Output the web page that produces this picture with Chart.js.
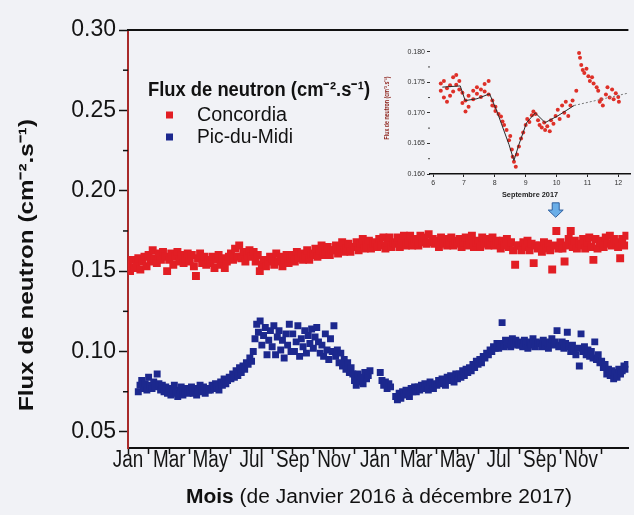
<!DOCTYPE html>
<html>
<head>
<meta charset="utf-8">
<script src="https://cdn.jsdelivr.net/npm/chart.js@4.4.0/dist/chart.umd.min.js"></script>
<style>
  html, body { margin: 0; padding: 0; background: #f1f2f6; overflow: hidden; }
  #wrap { position: relative; width: 634px; height: 515px; }
  #main { position: absolute; left: 0; top: 0; }
  #inset { position: absolute; left: 378px; top: 32px; }
</style>
</head>
<body>
<div id="wrap">
  <canvas id="main" width="634" height="515"></canvas>
  <canvas id="inset" width="256" height="178"></canvas>
</div>
<script>
// ---- main chart data (months since Jan 2016, flux in cm-2.s-1) ----
const monthLabels = ["Jan", "Mar", "May", "Jul", "Sep", "Nov", "Jan", "Mar", "May", "Jul", "Sep", "Nov"];
const monthTicks = [0, 1, 2, 3, 4, 5, 6, 7, 8, 9, 10, 11, 12, 13, 14, 15, 16, 17, 18, 19, 20, 21, 22, 23];
const yMajorTicks = [0.05, 0.10, 0.15, 0.20, 0.25, 0.30];
const yMinorTicks = [0.075, 0.125, 0.175, 0.225, 0.275];

// Concordia, 10 readings per month
const concordiaByMonth = [
  [0.154, 0.150, 0.157, 0.152, 0.155, 0.158, 0.151, 0.156, 0.159, 0.153],
  [0.160, 0.156, 0.163, 0.158, 0.155, 0.161, 0.157, 0.162, 0.159, 0.150],
  [0.157, 0.161, 0.154, 0.159, 0.162, 0.156, 0.160, 0.155, 0.158, 0.161],
  [0.156, 0.160, 0.153, 0.147, 0.158, 0.161, 0.155, 0.159, 0.154, 0.157],
  [0.155, 0.159, 0.152, 0.157, 0.160, 0.154, 0.158, 0.152, 0.156, 0.159],
  [0.161, 0.157, 0.164, 0.159, 0.166, 0.158, 0.162, 0.156, 0.160, 0.163],
  [0.159, 0.162, 0.156, 0.160, 0.150, 0.154, 0.157, 0.153, 0.156, 0.159],
  [0.158, 0.154, 0.161, 0.156, 0.159, 0.153, 0.157, 0.160, 0.155, 0.158],
  [0.160, 0.156, 0.162, 0.158, 0.161, 0.157, 0.159, 0.163, 0.157, 0.160],
  [0.161, 0.164, 0.159, 0.163, 0.166, 0.160, 0.162, 0.165, 0.160, 0.163],
  [0.163, 0.166, 0.161, 0.165, 0.168, 0.162, 0.164, 0.167, 0.162, 0.165],
  [0.165, 0.168, 0.163, 0.167, 0.170, 0.164, 0.166, 0.169, 0.164, 0.167],
  [0.168, 0.165, 0.170, 0.166, 0.171, 0.164, 0.168, 0.171, 0.165, 0.168],
  [0.167, 0.171, 0.165, 0.169, 0.172, 0.166, 0.168, 0.172, 0.166, 0.169],
  [0.170, 0.166, 0.172, 0.168, 0.171, 0.167, 0.173, 0.168, 0.170, 0.167],
  [0.169, 0.165, 0.171, 0.167, 0.170, 0.166, 0.168, 0.171, 0.166, 0.169],
  [0.167, 0.170, 0.165, 0.168, 0.171, 0.166, 0.169, 0.172, 0.165, 0.168],
  [0.169, 0.165, 0.171, 0.167, 0.170, 0.166, 0.168, 0.171, 0.166, 0.169],
  [0.167, 0.164, 0.169, 0.166, 0.170, 0.165, 0.168, 0.163, 0.154, 0.166],
  [0.166, 0.163, 0.168, 0.165, 0.169, 0.163, 0.167, 0.155, 0.166, 0.164],
  [0.166, 0.162, 0.168, 0.164, 0.167, 0.163, 0.151, 0.166, 0.175, 0.164],
  [0.168, 0.164, 0.156, 0.166, 0.170, 0.175, 0.165, 0.169, 0.164, 0.167],
  [0.166, 0.170, 0.164, 0.168, 0.171, 0.165, 0.157, 0.170, 0.164, 0.168],
  [0.169, 0.165, 0.171, 0.167, 0.172, 0.166, 0.170, 0.168, 0.165, 0.158],
  [0.170, 0.166, 0.172]
];

// Pic-du-Midi, 12 readings per month (null = no reading)
const picByMonth = [
  [null, null, null, null, null, null, 0.075, 0.079, 0.082, 0.077, 0.080, 0.076],
  [0.084, 0.079, 0.077, 0.081, 0.078, 0.086, 0.080, 0.076, 0.079, 0.075, 0.078, 0.074],
  [0.077, 0.073, 0.076, 0.079, 0.074, 0.072, 0.076, 0.078, 0.073, 0.075, 0.077, 0.074],
  [0.075, 0.078, 0.074, 0.077, 0.073, 0.076, 0.079, 0.075, 0.078, 0.074, 0.077, 0.076],
  [0.076, 0.079, 0.077, 0.080, 0.078, 0.076, 0.081, 0.079, 0.083, 0.080, 0.082, 0.084],
  [0.083, 0.086, 0.084, 0.088, 0.085, 0.090, 0.087, 0.091, 0.089, 0.093, 0.092, 0.096],
  [0.094, 0.100, 0.108, 0.117, 0.112, 0.119, 0.104, 0.110, 0.115, 0.098, 0.107, 0.113],
  [0.103, 0.116, 0.098, 0.109, 0.113, 0.101, 0.107, 0.096, 0.111, 0.104, 0.117, 0.100],
  [0.111, 0.100, 0.106, 0.116, 0.097, 0.108, 0.103, 0.113, 0.099, 0.110, 0.105, 0.114],
  [0.102, 0.109, 0.115, 0.106, 0.099, 0.104, 0.097, 0.111, 0.101, 0.095, 0.108, 0.100],
  [0.116, 0.097, 0.101, 0.093, 0.099, 0.091, 0.095, 0.089, 0.093, 0.087, 0.090, 0.086],
  [0.082, 0.079, 0.086, 0.081, 0.084, 0.080, 0.087, 0.083, 0.085, 0.088, null, null],
  [null, null, null, 0.087, 0.082, 0.079, 0.081, 0.077, 0.080, 0.078, null, null],
  [0.072, 0.070, 0.074, 0.071, 0.075, 0.073, 0.076, 0.074, 0.072, 0.077, 0.075, 0.078],
  [0.075, 0.078, 0.076, 0.079, 0.077, 0.080, 0.078, 0.076, 0.081, 0.079, 0.077, 0.080],
  [0.079, 0.082, 0.080, 0.083, 0.081, 0.079, 0.084, 0.082, 0.085, 0.083, 0.081, 0.086],
  [0.083, 0.086, 0.084, 0.088, 0.085, 0.089, 0.087, 0.090, 0.088, 0.092, 0.090, 0.094],
  [0.092, 0.095, 0.093, 0.097, 0.096, 0.099, 0.098, 0.101, 0.100, 0.103, 0.102, 0.105],
  [0.102, 0.105, 0.118, 0.103, 0.107, 0.104, 0.106, 0.103, 0.108, 0.105, 0.107, 0.104],
  [0.104, 0.106, 0.103, 0.107, 0.105, 0.102, 0.106, 0.104, 0.108, 0.103, 0.106, 0.105],
  [0.105, 0.103, 0.107, 0.104, 0.106, 0.102, 0.105, 0.108, 0.104, 0.106, 0.113, 0.103],
  [0.104, 0.106, 0.102, 0.105, 0.112, 0.103, 0.100, 0.104, 0.101, 0.098, 0.102, 0.091],
  [0.111, 0.100, 0.103, 0.098, 0.101, 0.097, 0.100, 0.096, 0.106, 0.095, 0.098, 0.093],
  [0.094, 0.090, 0.092, 0.086, 0.089, 0.085, 0.088, 0.083, 0.087, 0.084, 0.089, 0.086],
  [0.088, 0.091, 0.089, 0.092]
];

// arrow marking September 2017 (month, flux top, flux tip)
const arrowMonth = 20.77;
const arrowTop = 0.1925;
const arrowTip = 0.1835;

// ---- inset data (days of September 2017, Concordia) ----
const insetXTicks = [6, 7, 8, 9, 10, 11, 12];
const insetYTicks = [0.160, 0.165, 0.170, 0.175, 0.180];
const insetYMinor = [0.1625, 0.1675, 0.1725, 0.1775];
const insetDay = [
  6.25, 6.25, 6.35, 6.35, 6.45, 6.45, 6.55, 6.55, 6.65, 6.65,
  6.75, 6.75, 6.85, 6.85, 6.95, 6.95, 7.05, 7.05, 7.15, 7.15,
  7.30, 7.30, 7.42, 7.42, 7.55, 7.55, 7.67, 7.67, 7.80, 7.80,
  7.92, 7.92, 8.02, 8.02, 8.12, 8.20, 8.25, 8.30, 8.38, 8.46,
  8.50, 8.55, 8.58, 8.62, 8.68, 8.72, 8.78, 8.85, 8.92, 9.00,
  9.05, 9.12, 9.20, 9.25, 9.32, 9.40, 9.45, 9.52, 9.60, 9.63,
  9.70, 9.78, 9.82, 9.90, 9.97, 10.04, 10.10, 10.18, 10.25, 10.30,
  10.38, 10.45, 10.52, 10.64, 10.73, 10.76, 10.80, 10.85, 10.90, 10.97,
  11.03, 11.08, 11.15, 11.20, 11.30, 11.35, 11.40, 11.45, 11.50, 11.60,
  11.65, 11.72, 11.80, 11.85, 11.92, 12.00, 12.02
];
const insetFlux = [
  0.1748, 0.1736, 0.1752, 0.1725, 0.1740, 0.1718, 0.1745, 0.1728, 0.1758, 0.1735,
  0.1762, 0.1746, 0.1752, 0.1738, 0.1733, 0.1716, 0.1720, 0.1702, 0.1728, 0.1710,
  0.1736, 0.1722, 0.1742, 0.1731, 0.1738, 0.1726, 0.1747, 0.1735, 0.1752, 0.1730,
  0.1720, 0.1712, 0.1710, 0.1703, 0.1698, 0.1694, 0.1686, 0.1680, 0.1672, 0.1655,
  0.1662, 0.1640, 0.1628, 0.1620, 0.1612, 0.1632, 0.1645, 0.1658, 0.1668, 0.1680,
  0.1690, 0.1685, 0.1696, 0.1702, 0.1698, 0.1688, 0.1680, 0.1676, 0.1684, 0.1672,
  0.1678, 0.1670, 0.1688, 0.1682, 0.1695, 0.1705, 0.1690, 0.1712, 0.1700, 0.1718,
  0.1695, 0.1712, 0.1720, 0.1736, 0.1798, 0.1790, 0.1778, 0.1770, 0.1765, 0.1772,
  0.1760, 0.1752, 0.1758, 0.1748, 0.1742, 0.1736, 0.1718, 0.1722, 0.1712, 0.1730,
  0.1742, 0.1725, 0.1738, 0.1722, 0.1732, 0.1726, 0.1718
];
const fitDay = [6.30, 6.88, 7.04, 7.42, 7.83, 8.05, 8.46, 8.62, 8.78, 9.03, 9.31, 9.63, 10.04, 10.57];
const fitFlux = [0.1742, 0.1744, 0.1720, 0.1723, 0.1731, 0.1705, 0.1648, 0.1622, 0.1648, 0.1684, 0.1700, 0.1684, 0.1695, 0.1712];
const trendDay = [10.57, 12.3];
const trendFlux = [0.1712, 0.1732];

const RED = "rgb(226, 30, 36)";
const BLUE = "rgb(28, 40, 142)";
const FONT = "'Liberation Sans', Arial, sans-serif";

function toPoints(byMonth, step) {
  const pts = [];
  byMonth.forEach((vals, m) => {
    vals.forEach((v, i) => {
      if (v !== null) pts.push({ x: m + i * step, y: v });
    });
  });
  return pts;
}

function pairs(xs, ys) {
  return xs.map((x, i) => ({ x, y: ys[i] }));
}

// draw text squeezed/stretched to a given width
function fitText(ctx, str, x, y, width) {
  const w = ctx.measureText(str).width;
  ctx.save();
  ctx.translate(x, y);
  ctx.scale(width / w, 1);
  ctx.fillText(str, 0, 0);
  ctx.restore();
}

const decor = {
  id: "decor",
  afterDraw(chart) {
    const { ctx, chartArea: a, scales: { x, y } } = chart;
    ctx.save();
    // top frame line
    ctx.strokeStyle = "#111";
    ctx.lineWidth = 2;
    ctx.beginPath();
    ctx.moveTo(a.left - 1, a.top);
    ctx.lineTo(a.right, a.top);
    ctx.stroke();
    // minor y ticks
    ctx.lineWidth = 1.5;
    yMinorTicks.forEach((v) => {
      const p = y.getPixelForValue(v);
      ctx.beginPath();
      ctx.moveTo(a.left - 5, p);
      ctx.lineTo(a.left, p);
      ctx.stroke();
    });

    // month labels, condensed like the original typeface
    ctx.fillStyle = "#141414";
    ctx.textBaseline = "middle";
    ctx.textAlign = "left";
    ctx.font = "23px " + FONT;
    monthLabels.forEach((lab, i) => {
      const px = x.getPixelForValue(i * 2);
      const w = ctx.measureText(lab).width * 0.82;
      fitText(ctx, lab, px - w / 2, a.bottom + 13, w);
    });

    // legend
    ctx.fillStyle = "#111";
    ctx.font = "bold 20px " + FONT;
    fitText(ctx, "Flux de neutron (cm⁻².s⁻¹)", a.left + 20, a.top + 60, 222);
    ctx.font = "20px " + FONT;
    const legendW = [90, 96];
    chart.data.datasets.forEach((ds, i) => {
      const cy = a.top + 85 + 22 * i;
      ctx.fillStyle = ds.backgroundColor;
      ctx.fillRect(a.left + 38, cy - 3.5, 7, 7);
      ctx.fillStyle = "#111";
      fitText(ctx, ds.label, a.left + 69, cy, legendW[i]);
    });

    // y title
    ctx.save();
    ctx.translate(27, (a.top + a.bottom) / 2 + 26);
    ctx.rotate(-Math.PI / 2);
    ctx.font = "bold 21px " + FONT;
    const yt = "Flux de neutron (cm⁻².s⁻¹)";
    const ytw = ctx.measureText(yt).width;
    ctx.scale(292 / ytw, 1);
    ctx.fillText(yt, -ytw / 2, 0);
    ctx.restore();

    // x title
    const xt1 = "Mois";
    const xt2 = " (de Janvier 2016 à décembre 2017)";
    ctx.font = "bold 20px " + FONT;
    const w1 = ctx.measureText(xt1).width;
    ctx.font = "20px " + FONT;
    const w2 = ctx.measureText(xt2).width;
    ctx.save();
    ctx.translate(186, 497);
    ctx.scale(386 / (w1 + w2), 1);
    ctx.font = "bold 20px " + FONT;
    ctx.fillText(xt1, 0, 0);
    ctx.font = "20px " + FONT;
    ctx.fillText(xt2, w1, 0);
    ctx.restore();

    // arrow pointing at September 2017
    const ax = x.getPixelForValue(arrowMonth);
    const ay0 = y.getPixelForValue(arrowTop);
    const ay1 = y.getPixelForValue(arrowTip);
    const head = (ay1 - ay0) * 0.5;
    ctx.beginPath();
    ctx.moveTo(ax - 3.5, ay0);
    ctx.lineTo(ax + 3.5, ay0);
    ctx.lineTo(ax + 3.5, ay1 - head);
    ctx.lineTo(ax + 7.5, ay1 - head);
    ctx.lineTo(ax, ay1);
    ctx.lineTo(ax - 7.5, ay1 - head);
    ctx.lineTo(ax - 3.5, ay1 - head);
    ctx.closePath();
    ctx.fillStyle = "#6aaee8";
    ctx.fill();
    ctx.strokeStyle = "#2f5f9e";
    ctx.lineWidth = 1;
    ctx.stroke();
    ctx.restore();
  }
};

new Chart(document.getElementById("main"), {
  type: "scatter",
  data: {
    datasets: [
      {
        label: "Concordia",
        data: toPoints(concordiaByMonth, 0.1),
        backgroundColor: RED,
        pointStyle: "rect",
        pointRadius: 5.6,
        pointBorderWidth: 0
      },
      {
        label: "Pic-du-Midi",
        data: toPoints(picByMonth, 1 / 12),
        backgroundColor: BLUE,
        pointStyle: "rect",
        pointRadius: 4.9,
        pointBorderWidth: 0
      }
    ]
  },
  options: {
    responsive: false,
    animation: false,
    events: [],
    layout: { padding: { top: 30, right: 0, left: 0, bottom: 0 } },
    plugins: { legend: { display: false }, tooltip: { enabled: false } },
    scales: {
      x: {
        type: "linear",
        min: 0,
        max: 24.3,
        afterBuildTicks: (s) => { s.ticks = monthTicks.map((v) => ({ value: v })); },
        afterFit: (s) => { s.height = 67; },
        ticks: { autoSkip: false, maxRotation: 0, callback: () => "" },
        grid: { drawOnChartArea: false, tickLength: 6, tickWidth: 1.5, color: "#111" },
        border: { color: "#111", width: 2 }
      },
      y: {
        min: 0.04,
        max: 0.30,
        afterBuildTicks: (s) => { s.ticks = yMajorTicks.map((v) => ({ value: v })); },
        afterFit: (s) => { s.width = 128; },
        ticks: {
          padding: 3,
          color: "#141414",
          font: { family: FONT, size: 23 },
          callback: (v) => v.toFixed(2)
        },
        grid: { drawOnChartArea: false, tickLength: 9, tickWidth: 1.5, color: "#111" },
        border: { color: "#a82a2a", width: 2 }
      }
    }
  },
  plugins: [decor]
});

const insetDecor = {
  id: "insetDecor",
  afterDraw(chart) {
    const { ctx, chartArea: a, scales: { y } } = chart;
    ctx.save();
    ctx.strokeStyle = "#444";
    ctx.lineWidth = 1;
    insetYMinor.forEach((v) => {
      const p = y.getPixelForValue(v);
      ctx.beginPath();
      ctx.moveTo(a.left - 2, p);
      ctx.lineTo(a.left, p);
      ctx.stroke();
    });
    ctx.textBaseline = "middle";
    ctx.textAlign = "left";
    ctx.fillStyle = "#222";
    ctx.font = "bold 7px " + FONT;
    fitText(ctx, "Septembre 2017", (a.left + a.right) / 2 - 28, 163, 56);
    ctx.save();
    ctx.translate(9, 76);
    ctx.rotate(-Math.PI / 2);
    ctx.fillStyle = "#8a1c14";
    ctx.font = "bold 7px " + FONT;
    const yt = "Flux de neutron (cm⁻².s⁻¹)";
    const ytw = ctx.measureText(yt).width;
    ctx.scale(63 / ytw, 1);
    ctx.fillText(yt, -ytw / 2, 0);
    ctx.restore();
    ctx.restore();
  }
};

new Chart(document.getElementById("inset"), {
  type: "scatter",
  data: {
    datasets: [
      {
        type: "line",
        data: pairs(fitDay, fitFlux),
        borderColor: "#2a2a2a",
        borderWidth: 1,
        pointRadius: 0,
        order: 0
      },
      {
        type: "line",
        data: pairs(trendDay, trendFlux),
        borderColor: "#777",
        borderWidth: 1,
        borderDash: [2, 2],
        pointRadius: 0,
        order: 0
      },
      {
        data: pairs(insetDay, insetFlux),
        backgroundColor: "rgb(222, 48, 40)",
        pointRadius: 2,
        pointBorderWidth: 0,
        order: 1
      }
    ]
  },
  options: {
    responsive: false,
    animation: false,
    events: [],
    layout: { padding: 0 },
    plugins: { legend: { display: false }, tooltip: { enabled: false } },
    scales: {
      x: {
        type: "linear",
        min: 5.9,
        max: 12.38,
        afterBuildTicks: (s) => { s.ticks = insetXTicks.map((v) => ({ value: v })); },
        afterFit: (s) => { s.height = 36; },
        ticks: { autoSkip: false, maxRotation: 0, padding: 2, color: "#333", font: { family: FONT, size: 7 } },
        grid: { drawOnChartArea: false, tickLength: 3, color: "#222" },
        border: { color: "#111", width: 1.5 }
      },
      y: {
        min: 0.16,
        max: 0.1822,
        afterBuildTicks: (s) => { s.ticks = insetYTicks.map((v) => ({ value: v })); },
        afterFit: (s) => { s.width = 52; },
        ticks: { padding: 2, color: "#333", font: { family: FONT, size: 7 }, callback: (v) => v.toFixed(3) },
        grid: { drawOnChartArea: false, tickLength: 3, color: "#333" },
        border: { display: false }
      }
    }
  },
  plugins: [insetDecor]
});
</script>
</body>
</html>
